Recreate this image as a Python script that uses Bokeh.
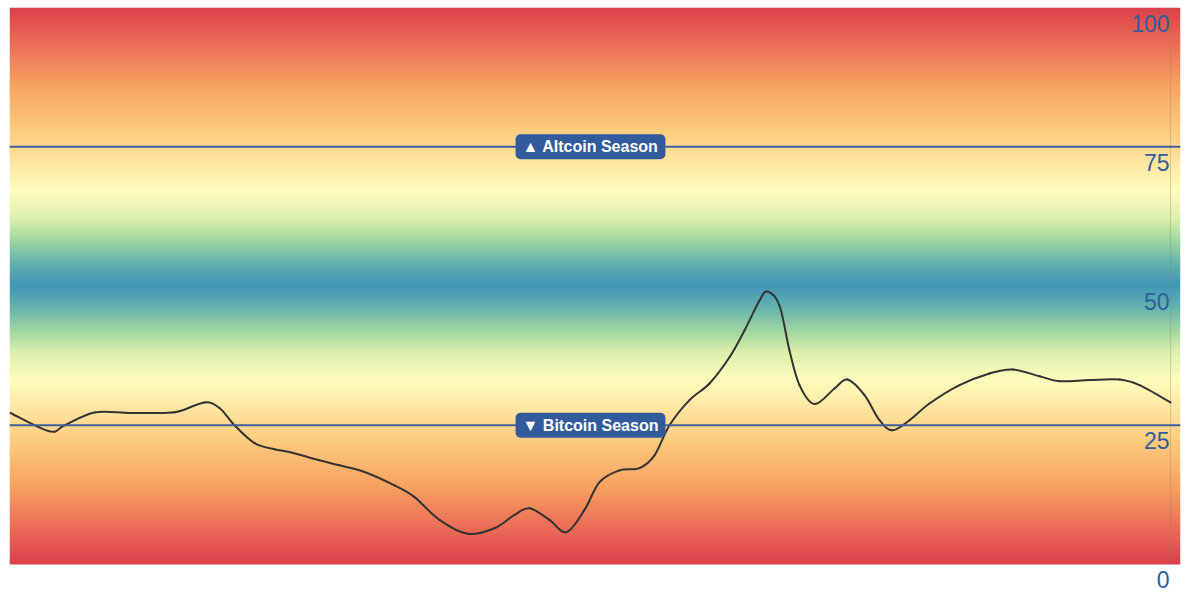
import numpy as np
from bokeh.plotting import figure
from bokeh.models import Range1d, Span, Label
from bokeh.embed import file_html
from bokeh.resources import INLINE

# ---- data ----
day = [0, 3.9, 5.4, 8.4, 11.9, 15.4, 16.9, 19.4, 20.9, 22.4, 24.4, 26.4, 27.9, 30.9,
       32.9, 35.4, 38.4, 40.4, 42.9, 45.7, 48.4, 50.4, 51.9, 53.9, 55.6, 57.4, 58.9,
       60.9, 62.9, 64.4, 65.9, 67.9, 69.9, 71.9, 73.4, 74.9, 75.7, 76.9, 77.9, 78.9,
       80.4, 82.4, 83.7, 85.4, 86.9, 88.2, 89.9, 91.9, 94.9, 97.9, 100.2, 102.9,
       104.9, 107.9, 110.9, 112.9, 116.0]
index = [27.2, 23.9, 25.0, 27.3, 27.2, 27.2, 27.5, 29.1, 28.1, 25.0, 21.8, 20.7, 20.2,
         18.7, 17.8, 16.6, 14.2, 12.1, 8.0, 5.5, 6.5, 8.9, 10.1, 8.0, 5.8, 9.8, 14.8,
         16.9, 17.3, 19.6, 25.0, 29.5, 32.5, 37.2, 42.0, 47.4, 49.0, 46.5, 38.4, 32.2,
         28.8, 31.6, 33.2, 30.4, 25.9, 24.1, 25.9, 28.9, 32.2, 34.3, 35.0, 33.8, 32.9,
         33.1, 33.2, 32.2, 29.1]
tick_values = [0, 25, 50, 75, 100]
tick_labels = ["0", "25", "50", "75", "100"]
altcoin_level = 75
bitcoin_level = 25
altcoin_text = "▲ Altcoin Season"
bitcoin_text = "▼ Bitcoin Season"

X0, X1 = -0.1, 117.0
YMIN, YMAX = tick_values[0], tick_values[-1]
p = figure(width=1185, height=594, x_range=Range1d(X0, X1), y_range=Range1d(-5.39, YMAX),
           output_backend="svg", toolbar_location=None,
           min_border_left=9, min_border_right=5, min_border_top=7, min_border_bottom=0)
p.xaxis.visible = False
p.yaxis.visible = False
p.xgrid.visible = False
p.ygrid.visible = False
p.outline_line_color = None
p.background_fill_color = "white"
p.border_fill_color = "white"

# ---- background gradient (style) ----
stop_d = [0, 7, 14, 22, 28, 33, 38, 42, 46, 50]
stop_c = np.array([(218, 64, 74), (236, 112, 88), (248, 162, 96), (253, 203, 125),
                   (254, 230, 160), (255, 253, 190), (222, 241, 172), (160, 214, 162),
                   (100, 180, 172), (66, 150, 185)], dtype=float)
N = 557
v = (np.arange(N) + 0.5) / N * 100
d = np.minimum(v, 100 - v)
img = np.zeros((N, 1), dtype=np.uint32)
view = img.view(dtype=np.uint8).reshape((N, 1, 4))
for k in range(3):
    view[:, 0, k] = np.interp(d, stop_d, stop_c[:, k]).astype(np.uint8)
view[:, 0, 3] = 255
p.image_rgba(image=[img], x=X0, y=YMIN, dw=X1 - X0, dh=YMAX - YMIN)

# right axis line
p.segment(x0=[day[-1]], y0=[YMIN], x1=[day[-1]], y1=[YMAX], line_color="#8a7a70",
          line_alpha=0.35, line_width=1)

# threshold lines
for lvl in (altcoin_level, bitcoin_level):
    p.add_layout(Span(location=lvl, dimension="width", line_color="#3d5f9b", line_width=2))

# index line, drawn as a smooth spline through the points (bezier segments)
xs = np.array(day, dtype=float)
ys = np.array(index, dtype=float)
xp = np.concatenate([[xs[0]], xs, [xs[-1]]])
yp = np.concatenate([[ys[0]], ys, [ys[-1]]])
n = len(xs)
cx0 = xs[:-1] + (xp[2:n + 1] - xp[0:n - 1]) / 6
cy0 = ys[:-1] + (yp[2:n + 1] - yp[0:n - 1]) / 6
cx1 = xs[1:] - (xp[3:n + 2] - xp[1:n]) / 6
cy1 = ys[1:] - (yp[3:n + 2] - yp[1:n]) / 6
p.bezier(x0=xs[:-1], y0=ys[:-1], x1=xs[1:], y1=ys[1:], cx0=cx0, cy0=cy0, cx1=cx1, cy1=cy1,
         line_color="#333333", line_width=2, line_cap="round")

# badges
for lvl, txt in ((altcoin_level, altcoin_text), (bitcoin_level, bitcoin_text)):
    p.add_layout(Label(x=58, y=lvl, text=txt, text_align="center", text_baseline="middle",
                       text_color="white", text_font="Liberation Sans", text_font_style="bold",
                       text_font_size="16px", background_fill_color="#315b9c",
                       padding=(7, 4), border_radius=5))

# tick labels
for tv, tl in zip(tick_values, tick_labels):
    p.add_layout(Label(x=115.9, y=tv, text=tl, text_align="right", text_baseline="top",
                       y_offset=-7, text_color="#335c9e", text_font="Liberation Sans",
                       text_font_size="23px"))

open("out.html", "w").write(file_html(p, INLINE))
